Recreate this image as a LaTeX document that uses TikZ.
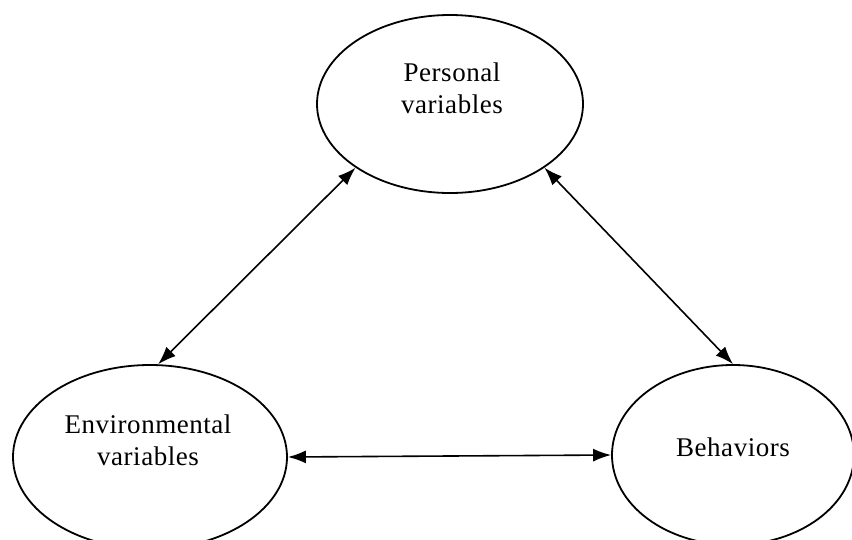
\documentclass[tikz,border=0pt]{standalone}
\usepackage{fontspec}
\setmainfont[LetterSpace=2]{Liberation Serif}
\usetikzlibrary{shapes.geometric,arrows.meta}
\begin{document}
\begin{tikzpicture}[x=1pt,y=-1pt,
  oval/.style={draw, ellipse, line width=1.8pt, inner sep=0pt},
  lbl/.style={align=center, font=\fontsize{27}{32}\selectfont, inner sep=0pt},
  link/.style={line width=1.6pt, {Latex[length=18pt,width=13pt]}-{Latex[length=18pt,width=13pt]}}]
\useasboundingbox (0,0) rectangle (852,539);
\clip (0,0) rectangle (852,539);
\node[oval, minimum width=266pt, minimum height=178pt] (pers) at (450,104) {};
\node[oval, minimum width=274pt, minimum height=184pt] (env) at (150,457) {};
\node[oval, minimum width=242pt, minimum height=180pt] (beh) at (733,455) {};
\node[lbl] (tpers) at (452,88) {Personal\\variables};
\node[lbl] (tenv) at (148,440) {Environmental\\variables};
\node[lbl] (tbeh) at (733,447) {Behaviors};
\draw[link] (pers.214.5) -- (env.85.6);
\draw[link] (pers.326) -- (beh.90);
\draw[link] (env.0) -- (beh.180);
\end{tikzpicture}
\end{document}
